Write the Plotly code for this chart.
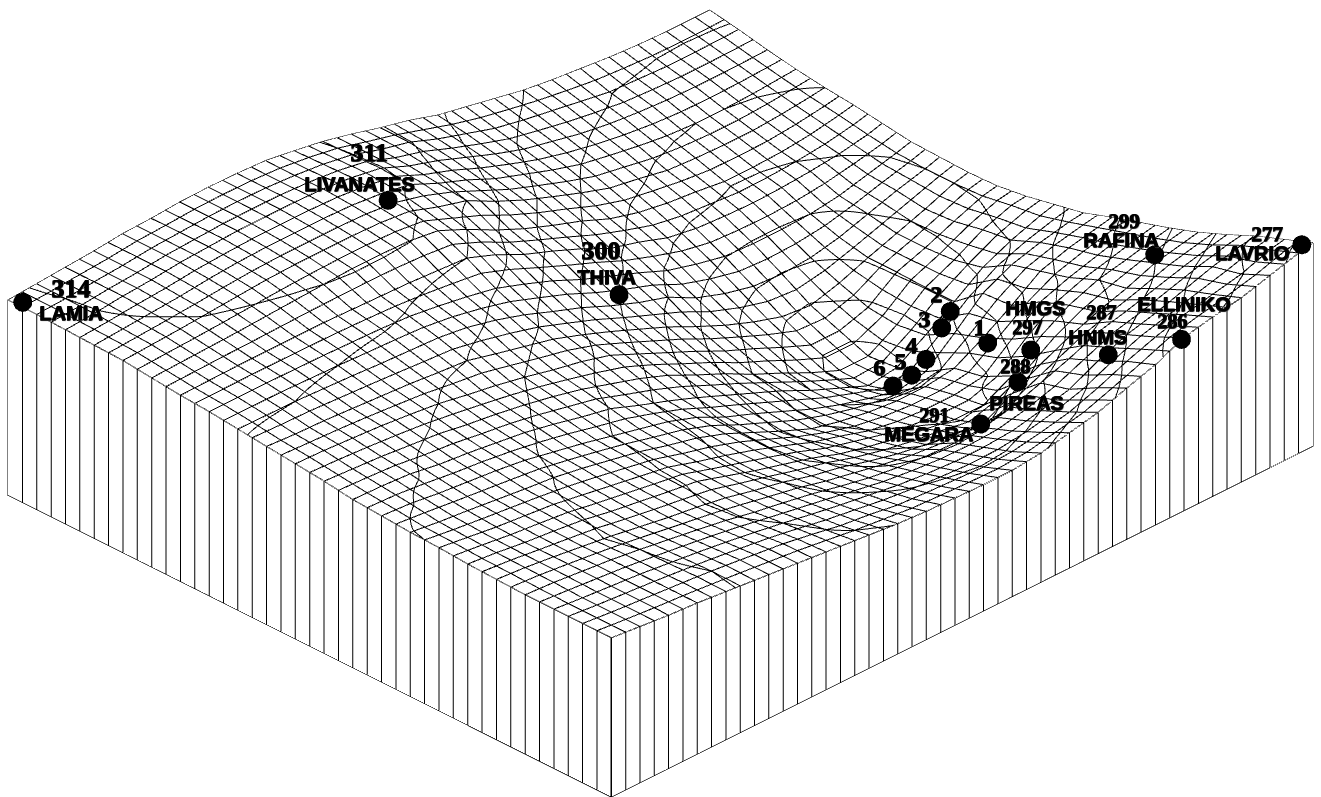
import plotly.graph_objects as go

x_nodes = [0,2,4,6,8,10,12,14,16,18,20,22,24,26,28,30,32,34,36,38,40,42,44,46,48,49]
y_nodes = [0,2,4,6,8,10,12,14,16,18,20,22,24,26,28,30,32,34,36,38,40,42]
heights = [
[159,156,153,151,148,145,142,139,136,133,130,128,127,126,126,129,135,141,151,160,173,179,184,192,200,203],
[159,156,153.5,151,148.5,145.5,142,138.5,133.5,128,124.5,120,118,116.5,115,116,121,127,137,149,159,167,173,179,189,192],
[159,156,153.5,151,147.5,144,140,135.5,130.5,125,120,115.5,111,108,106,106,108,114,121,135,147,154,163,172,179,181],
[159,157,154,151,147,142.5,138,133,127,122,116.5,110,104,100,97,96,97,103,113,123,135,142,150,158,165,168],
[160,157.5,154,150,146,141,136,132,127,120,114,106,100,92,85,80,77,72,88,103,116,127,136,147,153,156],
[161,158,154,151,147.5,142,137.5,133,129,120,111,103,95,85,78,72,67,62,62,77,102,119,130,136,143,146],
[163,159,155,152,149,144,139,134,129,120,112,103,93,82,74,65,60,58,58,62,85,108,118,126,134,137],
[164,160,157,153.5,150,147,142,136,130,122,115,105,92,79,67,60,55,52,52,56,72,90,110,119,125,128],
[166,164,160,157,154,150,144,138,131,124,117,107,93,82,70,58,48,40,33,38,62,88,102,110,116,118],
[168,167,165,160,157,153,149,143,136,130,119,109,98,86,74,62,48,36,24,28,46,65,85,98,108,112],
[172,170,168,165,162,157,153,148,142,135,126,117,106,92,79,64,51,37,25,25,42,65,78,94,104,106],
[175,174,172,170,167,163.5,158,153,147,140,134,126,113,100,87,73,61,48,36,36,45,66,76,88,99,102],
[178,176,175,173,171,169,166,163.5,156,149,142,132,121,109,97,83,70,59,50,47,55,66,76,86,97.5,101],
[181,180.5,180,178.5,177,175,173.5,172,168,161,152,141,130.5,118,107,98,83,73,66,64,66,72,81,90,97.5,102],
[184,184,184,183.5,183,182,181,179,175,170,164,154,143,130,119,108,96,88,81.5,80,80,81,85,92,99,103],
[186,186.5,187,187,187,187,186,185,184,182,180,169,155,144,132,118,110,100,95,93,92,93,95,98,103,107],
[189,190,191,192,193.5,195,196.5,198,198,197,193,180,165,152,141,131,119,111,106,103,99,99,100,103,108,111],
[192,193.5,195,197,199,201,202,202,202,201,198,188,180,165,152,141,130.5,121,116,110,108,107,107,109,112,114],
[193,195,197,199,202,204,205,205,205,204,201,196,183,172,159,149,139,130.5,125,120,116,114,114,115,117,118],
[194,196,199,201,204,205.5,207,207,207,206,203,198,186,177,166,155,145.5,139,132.5,128,125,123,122,122,122.5,123],
[195,196.5,199,201,204,205.5,207,207.5,207,205,202,197,188,181,170,161,152,146,141,136,131,129.5,128,128,128.5,129],
[195,197,199,201,204,205,207,207.5,207,205.5,201,196,189,181,174,165,159,153,147,143,140,137,135,134,134,134],
]

station_names = ["LAMIA","LIVANATES","THIVA","RAFINA","LAVRIO","ELLINIKO","HNMS","HMGS","PIREAS","MEGARA","1","2","3","4","5","6"]
station_values = ["314","311","300","299","277","286","287","297","288","291","","","","","",""]
station_x = [0.3,19.9,27.1,46.15,48.7,40.2,39.5,39.5,37.1,33.5,39.4,40.5,40.1,38.4,37.5,36.3]
station_y = [41.3,35.4,26.5,8.2,0.5,0.4,4.8,10.2,8.7,7.7,13.1,16.8,17,16.4,16.5,16.6]
station_z = [196,200,118,153,200,167,125,91,87,78,78,75,60,45,35,32]
name_dx = [48,-29,-12,-33,-49,2,-10,5,8,-52,-8,-14,-17,-15,-11,-14]
name_dy = [11,-16,-17,-14,9,-35,-17,-42,21,10,-16,-17,-9,-14,-14,-19]
value_dx = [48,-19,-18,-30,-34,-9,-7,-3,-3,-46,0,0,0,0,0,0]
value_dy = [-13,-47,-44,-33,-10,-18,-42,-23,-16,-9,0,0,0,0,0,0]
value_size = [26,26,26,21,21,20,20,20,20,20,0,0,0,0,0,0]

flat_white = [[0,"white"],[1,"white"]]
light = dict(ambient=1,diffuse=0,specular=0,roughness=1,fresnel=0)
nx, ny = len(x_nodes), len(y_nodes)
fig = go.Figure()

fig.add_trace(go.Surface(
    x=x_nodes, y=y_nodes, z=heights, colorscale=flat_white, showscale=False, lighting=light, hoverinfo="skip",
    contours=dict(
        x=dict(show=True,start=0,end=49,size=1,color="black",width=2),
        y=dict(show=True,start=0,end=42,size=1,color="black",width=2),
        z=dict(show=True,start=31.5,end=197,size=16.5,color="black",width=2),
    )))

# front walls
fig.add_trace(go.Surface(
    x=[x_nodes,x_nodes], y=[[0]*nx,[0]*nx], z=[[0]*nx,heights[0]],
    colorscale=flat_white, showscale=False, lighting=light, hoverinfo="skip",
    contours=dict(x=dict(show=True,start=0,end=49,size=1,color="black",width=2))))
fig.add_trace(go.Surface(
    x=[[0]*ny,[0]*ny], y=[y_nodes,y_nodes], z=[[0]*ny,[row[0] for row in heights]],
    colorscale=flat_white, showscale=False, lighting=light, hoverinfo="skip",
    contours=dict(y=dict(show=True,start=0,end=42,size=1,color="black",width=2))))

# outlines
last = heights[-1]
col0 = [row[0] for row in heights]
col1 = [row[-1] for row in heights]
def edge(xs,ys,zs,w=2):
    fig.add_trace(go.Scatter3d(x=xs,y=ys,z=zs,mode="lines",line=dict(color="black",width=w),hoverinfo="skip",showlegend=False))
edge(x_nodes,[0]*nx,heights[0])
edge(x_nodes,[42]*nx,last)
edge([0]*ny,y_nodes,col0)
edge([49]*ny,y_nodes,col1)
edge(x_nodes,[0]*nx,[0]*nx)
edge([0]*ny,y_nodes,[0]*ny)
# the front corner line sits just in front of both walls
nudge_xy, nudge_z = 0.15, 2
edge([-nudge_xy]*2,[-nudge_xy]*2,[nudge_z,heights[0][0]+nudge_z],3)
edge([0,0],[42,42],[0,col0[-1]])
edge([49,49],[0,0],[0,col1[0]])

# markers are pulled toward the viewer along the line of sight, so the surface does not cut them
lift_xy, lift_z = 3, 43
fig.add_trace(go.Scatter3d(
    x=[v-lift_xy for v in station_x],y=[v-lift_xy for v in station_y],z=[v+lift_z for v in station_z],mode="markers",
    marker=dict(color="black",size=11,line=dict(width=0)),hoverinfo="skip",showlegend=False))

strike = "1px 0 0 #000, 0 1px 0 #222, 1px 1px 1px #555"
anns=[]
for i,n in enumerate(station_names):
    digit = n.isdigit()
    anns.append(dict(x=station_x[i],y=station_y[i],z=station_z[i],text=n,showarrow=False,
        xshift=name_dx[i],yshift=-name_dy[i],xanchor="center",yanchor="middle",
        font=dict(family="Liberation Serif" if digit else "Liberation Sans",size=24 if digit else 20,color="black",weight=700,shadow=strike)))
    if station_values[i]:
        anns.append(dict(x=station_x[i],y=station_y[i],z=station_z[i],text=station_values[i],showarrow=False,
            xshift=value_dx[i],yshift=-value_dy[i],xanchor="center",yanchor="middle",
            font=dict(family="Liberation Serif",size=value_size[i],color="black",weight=700,shadow=strike)))

r = 5
cx, cy, cz = 0.0508, 0.051, -0.1608
fig.update_layout(
    width=1321,height=797,margin=dict(l=0,r=0,t=0,b=0),paper_bgcolor="white",showlegend=False,
    scene=dict(
        domain=dict(x=[0,1],y=[0,1]),
        xaxis=dict(visible=False,range=[-3,50]),
        yaxis=dict(visible=False,range=[-3,43]),
        zaxis=dict(visible=False,range=[-5,260]),
        aspectmode="manual",aspectratio=dict(x=2.693,y=2.345,z=0.7685),
        camera=dict(projection=dict(type="orthographic"),up=dict(x=0,y=0,z=1),
            center=dict(x=cx,y=cy,z=cz),eye=dict(x=cx-0.612*r,y=cy-0.612*r,z=cz+0.5*r)),
        annotations=anns,
        bgcolor="white",
    ))
fig.write_html("out.html",config=dict(displayModeBar=False,plotGlPixelRatio=1),post_script="document.body.style.margin='0';document.body.style.overflow='hidden';")
